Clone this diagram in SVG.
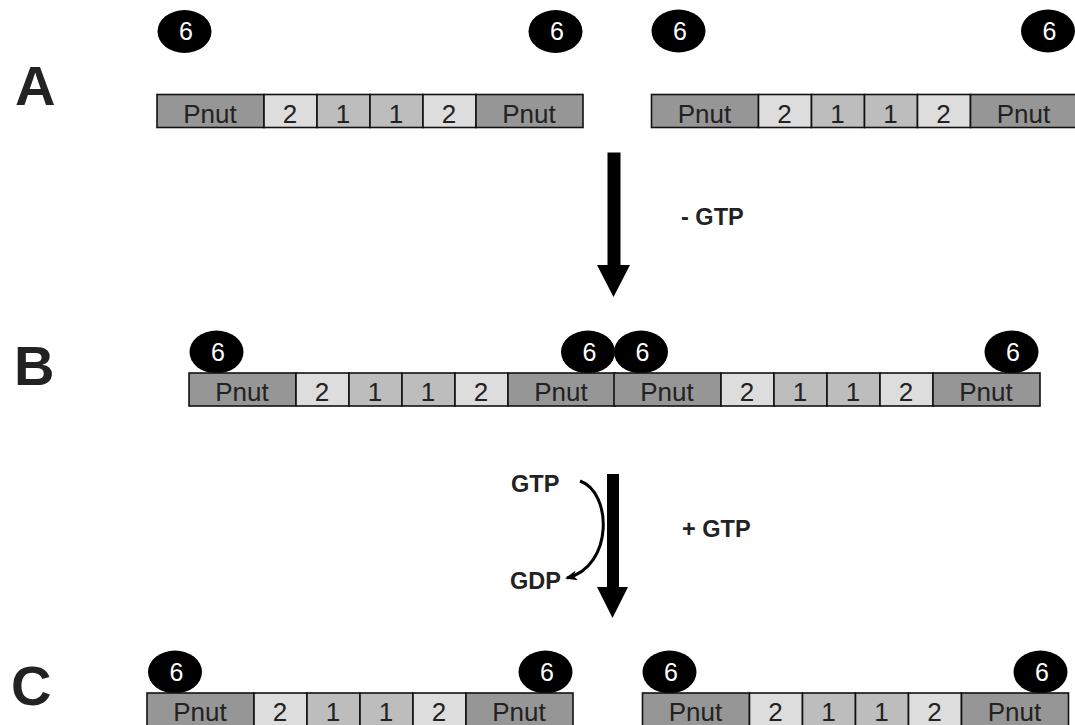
<svg xmlns="http://www.w3.org/2000/svg" xmlns:xlink="http://www.w3.org/1999/xlink" width="1075" height="725" viewBox="0 0 1075 725">
  <style>
    .pnut { fill: #969696; stroke: #111; stroke-width: 1.6; }
    .s2 { fill: #dddddd; stroke: #111; stroke-width: 1.6; }
    .s1 { fill: #bdbdbd; stroke: #111; stroke-width: 1.6; }
    .seg { font-family: "Liberation Sans", Arial, sans-serif; font-size: 26px; fill: #222; text-anchor: middle; }
    .six { fill: #000; }
    .sixt { font-family: "Liberation Sans", Arial, sans-serif; font-size: 25px; fill: #fff; text-anchor: middle; }
    .row { font-family: "Liberation Sans", Arial, sans-serif; font-size: 56px; font-weight: bold; fill: #222; }
    .lbl { font-family: "Liberation Sans", Arial, sans-serif; font-size: 23.5px; font-weight: bold; fill: #222; }
  </style>
  <defs>
    <!-- one septin filament: Pnut-2-1-1-2-Pnut -->
    <g id="filament">
      <rect class="pnut" x="0" y="0" width="107" height="33"/>
      <rect class="s2" x="107" y="0" width="53" height="33"/>
      <rect class="s1" x="160" y="0" width="53" height="33"/>
      <rect class="s1" x="213" y="0" width="53" height="33"/>
      <rect class="s2" x="266" y="0" width="53" height="33"/>
      <rect class="pnut" x="319" y="0" width="107" height="33"/>
      <text class="seg" x="53" y="28">Pnut</text>
      <text class="seg" x="133" y="28">2</text>
      <text class="seg" x="186" y="28">1</text>
      <text class="seg" x="239" y="28">1</text>
      <text class="seg" x="292" y="28">2</text>
      <text class="seg" x="372" y="28">Pnut</text>
    </g>
    <!-- Cdc6 subunit bubble -->
    <g id="cdc6">
      <ellipse class="six" cx="0" cy="0" rx="27" ry="21.5"/>
      <text class="sixt" x="1.5" y="8.5">6</text>
    </g>
    <marker id="tip" viewBox="0 0 12 10" refX="10" refY="5" markerWidth="13" markerHeight="10" orient="auto" markerUnits="userSpaceOnUse">
      <path d="M0,0 L12,5 L0,10 L3,5 z" fill="#000"/>
    </marker>
  </defs>

  <rect width="1075" height="725" fill="#fff"/>

  <!-- row letters -->
  <text class="row" x="15" y="105">A</text>
  <text class="row" x="14" y="385">B</text>
  <text class="row" x="11" y="705">C</text>

  <!-- row A: two separate filaments, Cdc6 unbound -->
  <g id="a-left">
    <use xlink:href="#cdc6" x="184.5" y="31.5"/>
    <use xlink:href="#cdc6" x="555.5" y="31.5"/>
    <use xlink:href="#filament" x="157" y="94.5"/>
  </g>
  <g id="a-right">
    <use xlink:href="#cdc6" x="678.5" y="31"/>
    <use xlink:href="#cdc6" x="1048" y="31"/>
    <use xlink:href="#filament" x="651.5" y="94.5"/>
  </g>

  <!-- row B: filaments paired end to end -->
  <g id="b-left">
    <use xlink:href="#cdc6" x="216.5" y="352"/>
    <use xlink:href="#cdc6" x="588" y="352"/>
    <use xlink:href="#filament" x="189" y="373"/>
  </g>
  <g id="b-right">
    <use xlink:href="#cdc6" x="641" y="352"/>
    <use xlink:href="#cdc6" x="1011.5" y="352"/>
    <use xlink:href="#filament" x="614" y="373"/>
  </g>

  <!-- row C: filaments separated again -->
  <g id="c-left">
    <use xlink:href="#cdc6" x="175" y="672"/>
    <use xlink:href="#cdc6" x="545.5" y="672"/>
    <use xlink:href="#filament" x="147" y="693"/>
  </g>
  <g id="c-right">
    <use xlink:href="#cdc6" x="669.5" y="672"/>
    <use xlink:href="#cdc6" x="1040.5" y="672"/>
    <use xlink:href="#filament" x="642.5" y="693"/>
  </g>

  <!-- transition arrows -->
  <g id="connectors">
    <polygon points="607.5,152.5 620.5,152.5 620.5,265 630,265 613.5,297 597,265 607.5,265" fill="#000"/>
    <polygon points="607,474 619,474 619,587 628,587 612.5,618 597,587 607,587" fill="#000"/>
    <path d="M580,481 C612,492 614,566 567,578" fill="none" stroke="#000" stroke-width="3" marker-end="url(#tip)"/>
  </g>

  <!-- reaction labels -->
  <g id="labels">
    <text class="lbl" x="681" y="225">- GTP</text>
    <text class="lbl" x="682" y="537">+ GTP</text>
    <text class="lbl" x="511" y="492">GTP</text>
    <text class="lbl" x="510" y="589">GDP</text>
  </g>
</svg>
